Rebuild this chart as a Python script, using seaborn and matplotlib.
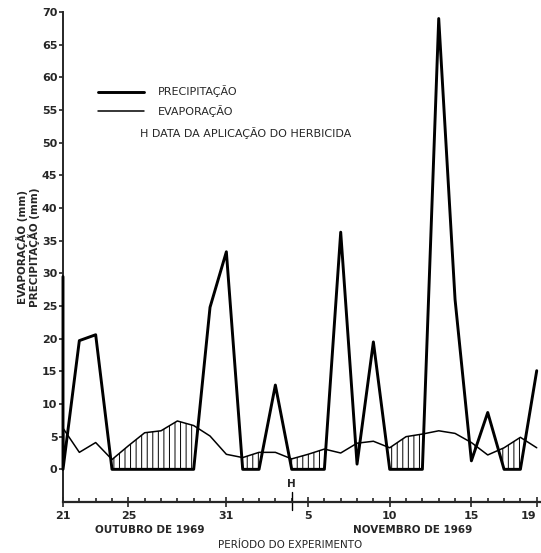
import numpy as np
import pandas as pd
import seaborn as sns
import matplotlib
matplotlib.use('Agg')
import matplotlib.pyplot as plt
import matplotlib.transforms as mtransforms

# dias desde 21 de outubro de 1969 (0 = 21/10, 29 = 19/11)
dias = list(range(30))

# precipitacao diaria (mm) - primeiro valor do dia 21 desenhado sobre o eixo
precip_inicio = 29.5
precipitacao = [0, 19.7, 20.6, 0, 0, 0, 0, 0, 0, 24.8,
                33.3, 0, 0, 12.9, 0, 0, 0, 36.3, 0.8, 19.5,
                0, 0, 0, 69.0, 26.0, 1.3, 8.7, 0, 0, 15.1]

# evaporacao diaria (mm)
evaporacao = [6.3, 2.6, 4.1, 1.5, 3.6, 5.6, 5.9, 7.4, 6.7, 5.1,
              2.3, 1.8, 2.6, 2.6, 1.6, 2.3, 3.1, 2.5, 4.0, 4.3,
              3.3, 5.0, 5.4, 5.9, 5.5, 4.1, 2.2, 3.3, 4.9, 3.3]

tick_dias = [0, 4, 10, 15, 20, 25, 29]
tick_labels = ['21', '25', '31', '5', '10', '15', '19']
dia_aplicacao = 14

sns.set_style('ticks')
plt.rcParams['font.family'] = ['DejaVu Sans']
plt.rcParams['hatch.linewidth'] = 0.7

df_p = pd.DataFrame({'dia': [0] + dias, 'mm': [precip_inicio] + precipitacao})
df_e = pd.DataFrame({'dia': dias, 'mm': evaporacao})

fig = plt.figure(figsize=(5.41, 5.53), dpi=100)
ax = fig.add_axes([63 / 541, 1 - 502 / 553, 477 / 541, 490 / 553])

sns.lineplot(data=df_p, x='dia', y='mm', ax=ax, color='black', linewidth=2.1,
             estimator=None, sort=False, label='PRECIPITAÇÃO', zorder=3,
             clip_on=False)
sns.lineplot(data=df_e, x='dia', y='mm', ax=ax, color='black', linewidth=1.1,
             estimator=None, sort=False, label='EVAPORAÇÃO')

p = np.array(precipitacao)
e = np.array(evaporacao)
ax.fill_between(dias, p, e, where=e > p, interpolate=True, facecolor='none',
                edgecolor='black', hatch='|||', linewidth=0)

ax.set_xlim(0, 29.2)
ax.set_ylim(-5, 70)
ax.set_yticks(range(0, 71, 5))
ax.set_xticks(tick_dias)
ax.set_xticklabels(tick_labels)
ax.set_xticks(dias, minor=True)

for lab in ax.get_xticklabels() + ax.get_yticklabels():
    lab.set_fontweight('bold')
    lab.set_fontsize(8)
ax.get_xticklabels()[-1].set_horizontalalignment('right')

ax.tick_params(axis='y', direction='out', length=3, width=1.2, pad=1)
ax.tick_params(axis='x', which='major', direction='inout', length=7, width=1.2, pad=3)
ax.tick_params(axis='x', which='minor', direction='in', length=3, width=1.2)

sns.despine(ax=ax)
ax.spines['left'].set_linewidth(1.4)
ax.spines['bottom'].set_linewidth(1.6)
ax.spines['left'].set_bounds(-5, 70)

ax.set_ylabel('EVAPORAÇÃO (mm)\nPRECIPITAÇÃO (mm)', fontsize=7.5,
              fontweight='bold', linespacing=1.0)
ax.yaxis.set_label_coords(-0.048, 0.52)
ax.set_xlabel('PERÍODO DO EXPERIMENTO', fontsize=7.5)
ax.xaxis.set_label_coords(0.476, -0.088)
ax.xaxis.label.set_verticalalignment('center')

trans = mtransforms.blended_transform_factory(ax.transData, ax.transAxes)
ax.text(5.3, -0.057, 'OUTUBRO DE 1969', transform=trans, ha='center',
        va='center', fontsize=7.5, fontweight='bold')
ax.text(21.4, -0.057, 'NOVEMBRO DE 1969', transform=trans, ha='center',
        va='center', fontsize=7.5, fontweight='bold')

# marca da aplicacao do herbicida
ax.axvline(dia_aplicacao, ymin=-0.016, ymax=0.02, color='black',
           linewidth=1.0, clip_on=False)
ax.text(dia_aplicacao, 0.036, 'H', transform=trans, ha='center',
        va='center', fontsize=7.5, fontweight='bold')

leg = ax.legend(loc='upper left', bbox_to_anchor=(0.073, 0.85), frameon=False,
                fontsize=8, handlelength=4.2, handletextpad=1.2,
                labelspacing=0.65, borderpad=0, borderaxespad=0)
ax.text(0.161, 0.753, 'H DATA DA APLICAÇÃO DO HERBICIDA', transform=ax.transAxes,
        ha='left', va='center', fontsize=8)

plt.savefig('out.png', dpi=100)
